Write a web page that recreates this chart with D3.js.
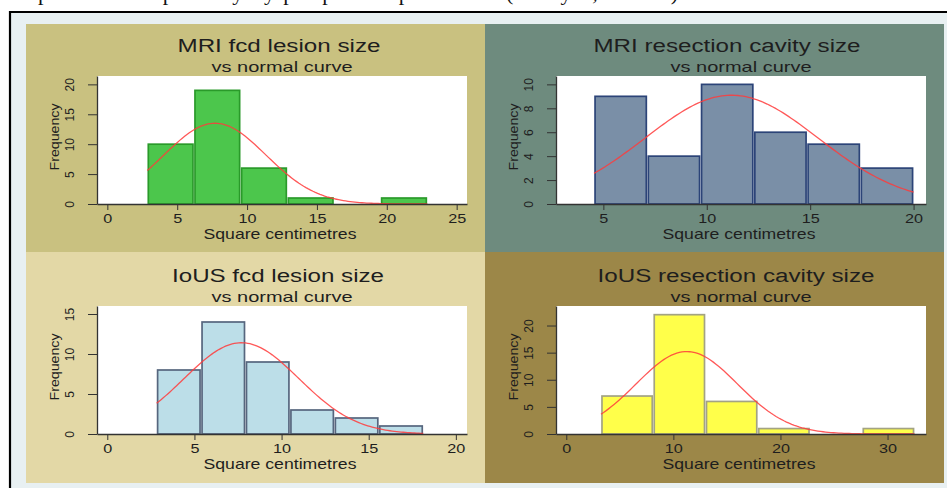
<!DOCTYPE html>
<html>
<head>
<meta charset="utf-8">
<script src="https://cdn.jsdelivr.net/npm/d3@7"></script>
<style>
body { margin: 0; background: #fff; }
svg { display: block; }
text { font-family: "Liberation Sans", Arial, sans-serif; }
</style>
</head>
<body>
<script>
// histogram data
const titles = ["MRI fcd lesion size", "MRI resection cavity size", "IoUS fcd lesion size", "IoUS resection cavity size"];
const subtitle = "vs normal curve";
const xLabel = "Square centimetres";
const yLabel = "Frequency";

const mriFcd = [10, 19, 6, 1, 0, 1];
const mriCavity = [9, 4, 10, 6, 5, 3];
const iousFcd = [8, 14, 9, 3, 2, 1];
const iousCavity = [7, 22, 6, 1, 0, 1];
const counts = [mriFcd, mriCavity, iousFcd, iousCavity];

const binStart = [2.86, 4.55, 2.83, 3.24];
const binWidth = [3.34, 2.575, 2.55, 4.88];

// fitted normal curve parameters
const curveMean = [7.7, 11.2, 7.7, 11.25];
const curveSd = [3.65, 4.18, 3.3, 4.74];

const xTicks = [[0, 5, 10, 15, 20, 25], [5, 10, 15, 20], [0, 5, 10, 15, 20], [0, 10, 20, 30]];
const yTicks = [[0, 5, 10, 15, 20], [0, 2, 4, 6, 8, 10], [0, 5, 10, 15], [0, 5, 10, 15, 20]];
const xDomains = [[-0.74, 25.74], [2.71, 20.6], [-0.59, 20.64], [-0.96, 33.59]];
const yMax = [21.4, 10.7, 16.0, 23.6];

// look
const panelFill = ["#c9c180", "#6e8b7e", "#e3d8a6", "#9c8748"];
const barFill = ["#4cc64c", "#7a8fa7", "#bcdee8", "#ffff4a"];
const barStroke = ["#2a9a2a", "#2c4478", "#56667e", "#a3a383"];
const titleWidth = [203, 267, 212, 277];
const titleCenter = [279, 727, 278, 736];

const W = 947, H = 488;
const svg = d3.select("body").append("svg").attr("width", W).attr("height", H);

// page behind the figure, caption line mostly above the window
svg.append("text")
  .attr("x", 38).attr("y", -0.5)
  .attr("textLength", 640).attr("lengthAdjust", "spacing")
  .style("font-family", "'Liberation Serif', serif")
  .style("font-size", "22px")
  .attr("fill", "#111")
  .text("presented separately by per patient procedure (Study 1, n = 37)");
svg.append("rect").attr("x", 11).attr("y", 13).attr("width", W - 11).attr("height", H - 13).attr("fill", "#e8f0f2");
svg.append("line").attr("x1", 9).attr("x2", W).attr("y1", 12).attr("y2", 12).attr("stroke", "#000").attr("stroke-width", 2.2);
svg.append("line").attr("x1", 10).attr("x2", 10).attr("y1", 11).attr("y2", H).attr("stroke", "#000").attr("stroke-width", 2.2);

const panelX = [26, 485, 26, 485];
const panelY = [24, 24, 252, 252];
const panelH = [228, 228, 231, 231];

titles.forEach((title, i) => {
  const g = svg.append("g");
  const px = panelX[i], py = panelY[i];
  g.append("rect").attr("x", px).attr("y", py).attr("width", 459).attr("height", panelH[i]).attr("fill", panelFill[i]);

  const left = px + 71, right = px + 441;
  const top = py + (i < 2 ? 52 : 54), bottom = top + 128;

  const x = d3.scaleLinear().domain(xDomains[i]).range([left, right]);
  const y = d3.scaleLinear().domain([0, yMax[i]]).range([bottom, top]);

  g.append("rect").attr("x", left).attr("y", top).attr("width", right - left).attr("height", bottom - top).attr("fill", "#fff");

  // titles
  g.append("text")
    .attr("x", titleCenter[i]).attr("y", top - 24)
    .attr("text-anchor", "middle")
    .attr("textLength", titleWidth[i]).attr("lengthAdjust", "spacingAndGlyphs")
    .style("font-size", "18px").attr("fill", "#1e1e1e")
    .text(title);
  g.append("text")
    .attr("x", (left + right) / 2).attr("y", top - 4)
    .attr("text-anchor", "middle")
    .attr("textLength", 141).attr("lengthAdjust", "spacingAndGlyphs")
    .style("font-size", "15px").attr("fill", "#1e1e1e")
    .text(subtitle);

  // bars
  const bins = counts[i].map((c, k) => ({ x0: binStart[i] + k * binWidth[i], x1: binStart[i] + (k + 1) * binWidth[i], c }));
  g.append("g").selectAll("rect")
    .data(bins.filter(d => d.c > 0))
    .enter()
    .append("rect")
    .attr("x", d => x(d.x0) + 1)
    .attr("y", d => y(d.c))
    .attr("width", d => x(d.x1) - x(d.x0) - 2)
    .attr("height", d => y(0) - y(d.c))
    .attr("fill", barFill[i])
    .attr("stroke", barStroke[i])
    .attr("stroke-width", 1.7);

  // normal curve
  const n = d3.sum(counts[i]);
  const x0 = binStart[i], x1 = binStart[i] + counts[i].length * binWidth[i];
  const pts = d3.range(0, 121).map(k => {
    const v = x0 + (x1 - x0) * k / 120;
    const z = (v - curveMean[i]) / curveSd[i];
    return [v, n * binWidth[i] * Math.exp(-z * z / 2) / (curveSd[i] * Math.sqrt(2 * Math.PI))];
  });
  g.append("path")
    .attr("d", d3.line().x(d => x(d[0])).y(d => y(d[1]))(pts))
    .attr("fill", "none")
    .attr("stroke", "#ff3b3b")
    .attr("stroke-opacity", 0.85)
    .attr("stroke-width", 1.3);

  // axes
  const xAxis = g.append("g").attr("transform", `translate(0,${bottom})`)
    .call(d3.axisBottom(x).tickValues(xTicks[i]).tickSize(6).tickSizeOuter(0));
  xAxis.select(".domain").attr("stroke", "#333").attr("stroke-width", 1.3);
  xAxis.selectAll(".tick line").attr("stroke", "#333");
  xAxis.selectAll(".tick text").attr("y", 0).attr("dy", null)
    .attr("transform", "translate(0,19) scale(1.2,1)")
    .style("font-size", "13.5px").attr("fill", "#1e1e1e");

  const yAxis = g.append("g").attr("transform", `translate(${left},0)`)
    .call(d3.axisLeft(y).tickValues(yTicks[i]).tickSize(9).tickSizeOuter(0));
  yAxis.select(".domain").attr("stroke", "#333").attr("stroke-width", 1.3);
  yAxis.selectAll(".tick line").attr("stroke", "#333");
  yAxis.selectAll(".tick text")
    .attr("x", null).attr("dy", null)
    .attr("text-anchor", "middle")
    .attr("transform", "translate(-23,0) rotate(-90)")
    .style("font-size", "12px").attr("fill", "#1e1e1e");

  g.append("text")
    .attr("transform", `translate(${left - 38},${(top + bottom) / 2 - 3}) rotate(-90)`)
    .attr("text-anchor", "middle")
    .attr("textLength", 67).attr("lengthAdjust", "spacingAndGlyphs")
    .style("font-size", "13px").attr("fill", "#1e1e1e")
    .text(yLabel);

  g.append("text")
    .attr("x", (left + right) / 2 - 2).attr("y", bottom + 34.5)
    .attr("text-anchor", "middle")
    .attr("textLength", 153).attr("lengthAdjust", "spacingAndGlyphs")
    .style("font-size", "15px").attr("fill", "#1e1e1e")
    .text(xLabel);
});
</script>
</body>
</html>
